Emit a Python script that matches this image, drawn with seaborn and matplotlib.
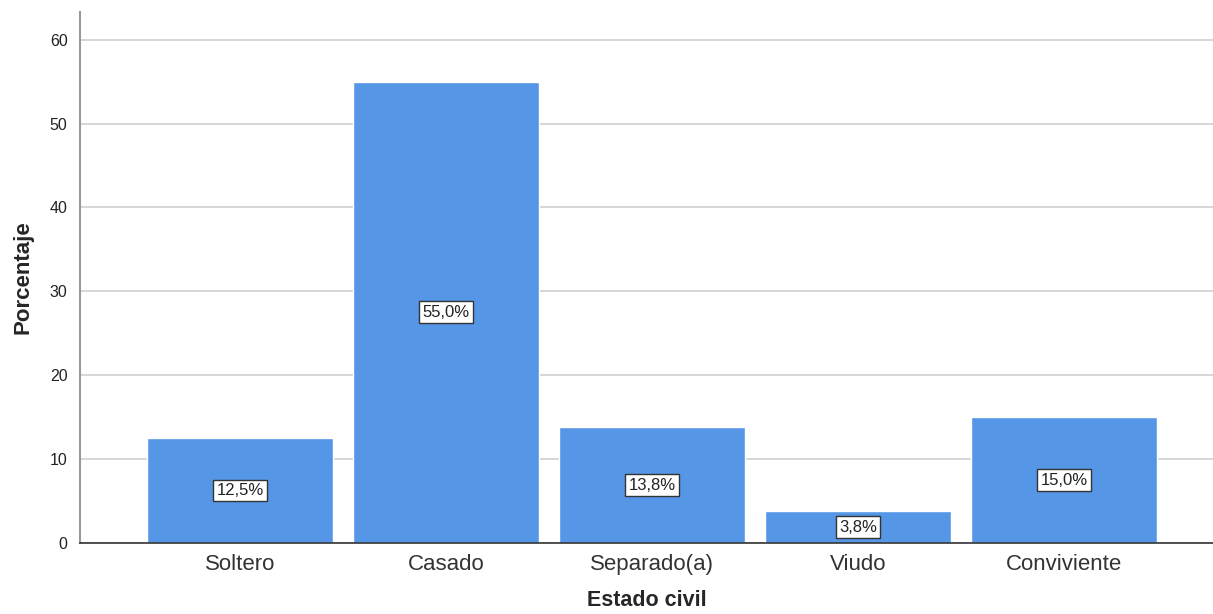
import pandas as pd
import matplotlib.pyplot as plt
import seaborn as sns

categorias = ['Soltero', 'Casado', 'Separado(a)', 'Viudo', 'Conviviente']
porcentajes = [12.5, 55.0, 13.8, 3.8, 15.0]
y_ticks = [0, 10, 20, 30, 40, 50, 60]

df = pd.DataFrame({'Estado civil': categorias, 'Porcentaje': porcentajes})

sns.set_style('white')
plt.rcParams['font.family'] = ['Liberation Sans', 'DejaVu Sans']

fig = plt.figure(figsize=(12.13, 6.14), dpi=100)
ax = fig.add_axes([0.066, 0.1156, 0.934, 0.865])

sns.barplot(data=df, x='Estado civil', y='Porcentaje', color='#5596E6',
            width=0.9, saturation=1, ax=ax, zorder=2)

# etiquetas de porcentaje en el centro de cada barra
for i, v in enumerate(porcentajes):
    ax.text(i, v / 2, f'{v:.1f}%'.replace('.', ','), ha='center', va='center',
            fontsize=12, color='#222222', zorder=3,
            bbox=dict(boxstyle='square,pad=0.2', fc='white', ec='#333333', lw=1))

ax.set_ylim(0, 63.3)
ax.set_xlim(-0.777, 4.723)
ax.set_yticks(y_ticks)
ax.yaxis.grid(True, color='#d0d0d0', lw=1.2, zorder=0)
ax.set_axisbelow(True)

for s in ['top', 'right']:
    ax.spines[s].set_visible(False)
ax.spines['left'].set_color('#999999')
ax.spines['left'].set_linewidth(1.5)
ax.spines['bottom'].set_color('#333333')
ax.spines['bottom'].set_linewidth(1.2)

ax.tick_params(axis='x', labelsize=16, colors='#333333', length=0, pad=8)
ax.tick_params(axis='y', labelsize=11.5, colors='#222222', length=0, pad=9)
ax.set_xlabel('Estado civil', fontsize=15.5, fontweight='bold', labelpad=11)
ax.set_ylabel('Porcentaje', fontsize=16, fontweight='bold', labelpad=12)

fig.savefig('out.png', dpi=100)
